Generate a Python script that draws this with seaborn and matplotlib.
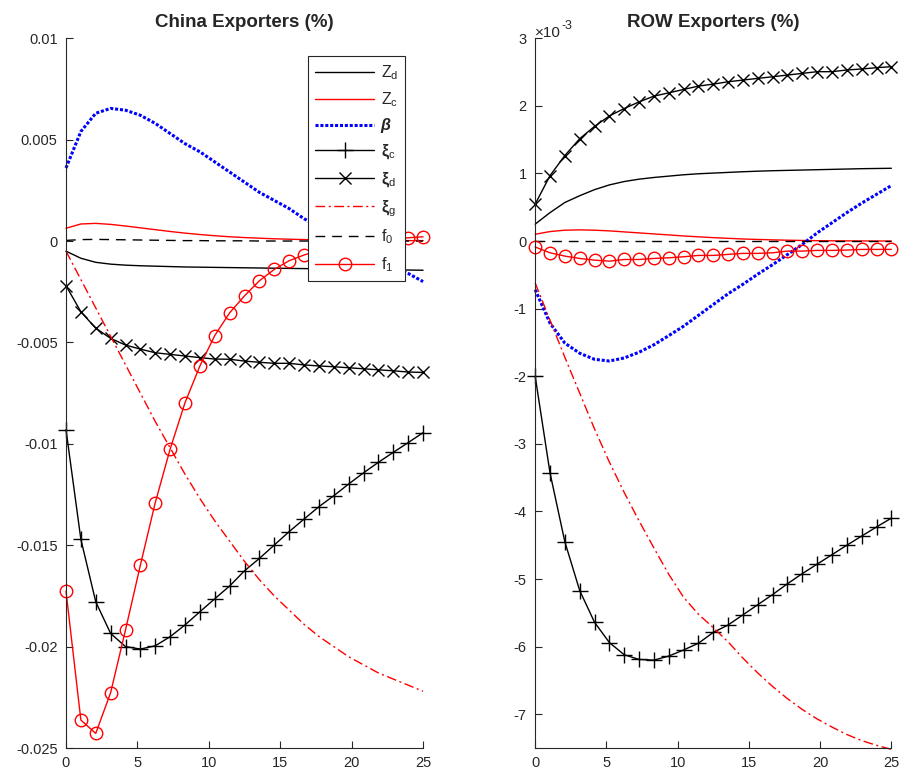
import numpy as np
import pandas as pd
import matplotlib
matplotlib.use("Agg")
import matplotlib.pyplot as plt
import seaborn as sns
from matplotlib.ticker import FuncFormatter, MultipleLocator

# ---------------- data ----------------
x_periods = np.linspace(0, 25, 25)

# China exporters (%)
china_Zd = [-0.0005, -0.00085, -0.00105, -0.00114, -0.00119, -0.00122, -0.00124, -0.00126,
            -0.00128, -0.00129, -0.0013, -0.00131, -0.00132, -0.00133, -0.00134, -0.00135,
            -0.00136, -0.00137, -0.00138, -0.00139, -0.0014, -0.00141, -0.00142, -0.00143, -0.00144]
china_Zc = [0.00063, 0.00084, 0.00087, 0.00082, 0.00074, 0.00065, 0.00056, 0.00047, 0.00039,
            0.00032, 0.00026, 0.00021, 0.00017, 0.00014, 0.00011, 0.00009, 0.00007, 0.00006,
            0.00005, 0.00004, 0.00003, 0.00003, 0.00002, 0.00002, 0.00002]
china_beta = [0.0036, 0.0054, 0.0063, 0.00654, 0.00645, 0.0062, 0.0058, 0.0053, 0.0048, 0.0044,
              0.0039, 0.0034, 0.0029, 0.0024, 0.0020, 0.0016, 0.0011, 0.0007, 0.0003, -0.0001,
              -0.0005, -0.0009, -0.0013, -0.0016, -0.0020]
china_xi_c = [-0.0093, -0.01471, -0.01779, -0.01935, -0.0200, -0.02012, -0.01996, -0.01951,
              -0.01893, -0.01828, -0.01764, -0.01701, -0.01626, -0.01565, -0.01499, -0.01433,
              -0.01371, -0.0131, -0.01256, -0.01198, -0.01143, -0.01091, -0.01042, -0.00994, -0.00945]
china_xi_d = [-0.0022, -0.00349, -0.0043, -0.0048, -0.00513, -0.00533, -0.00551, -0.00559,
              -0.00567, -0.00575, -0.00582, -0.00583, -0.00592, -0.00598, -0.00603, -0.00603,
              -0.00611, -0.00616, -0.0062, -0.00625, -0.0063, -0.00635, -0.0064, -0.00646, -0.00648]
china_xi_g = [-0.0005, -0.0019, -0.0033, -0.0047, -0.0061, -0.0075, -0.0089, -0.0102, -0.0115,
              -0.0127, -0.0138, -0.0148, -0.0158, -0.0167, -0.0175, -0.0182, -0.0189, -0.0195,
              -0.0200, -0.0205, -0.0209, -0.0213, -0.0216, -0.0219, -0.0222]
china_f0 = [0.00003, 0.00007, 0.00008, 0.00007, 0.00006, 0.00005, 0.00004, 0.00003, 0.00002,
            0.00002, 0.00001, 0.00001, 0.00001, 0.0, 0.0, 0.0, 0.0, 0.0, 0.0, 0.0, 0.0, 0.0,
            0.0, 0.0, 0.0]
china_f1 = [-0.01726, -0.02362, -0.02428, -0.02227, -0.01918, -0.01598, -0.0129, -0.01026,
            -0.00797, -0.00616, -0.00466, -0.00354, -0.0027, -0.00196, -0.0014, -0.00097,
            -0.00069, -0.00046, -0.0003, -0.00017, -0.00007, 0.00002, 0.00009, 0.00016, 0.00021]

# ROW exporters (%), in units of 1e-3
row_Zd = [0.25, 0.42, 0.57, 0.67, 0.76, 0.83, 0.88, 0.915, 0.94, 0.96, 0.98, 0.995, 1.005,
          1.015, 1.025, 1.033, 1.04, 1.045, 1.05, 1.055, 1.06, 1.065, 1.07, 1.073, 1.076]
row_Zc = [0.10, 0.14, 0.16, 0.165, 0.16, 0.15, 0.135, 0.12, 0.105, 0.09, 0.075, 0.062, 0.05,
          0.04, 0.03, 0.023, 0.017, 0.012, 0.008, 0.005, 0.003, 0.002, 0.001, 0.0, 0.0]
row_beta = [-0.72, -1.215, -1.51, -1.66, -1.75, -1.775, -1.73, -1.645, -1.535, -1.40, -1.26,
            -1.10, -0.94, -0.78, -0.64, -0.49, -0.35, -0.20, -0.05, 0.12, 0.27, 0.42, 0.56,
            0.69, 0.82]
row_xi_c = [-2.0, -3.43, -4.45, -5.17, -5.64, -5.94, -6.12, -6.19, -6.2, -6.14, -6.05, -5.95,
            -5.79, -5.68, -5.53, -5.38, -5.23, -5.07, -4.92, -4.78, -4.64, -4.50, -4.365, -4.23, -4.10]
row_xi_d = [0.546, 0.967, 1.265, 1.513, 1.696, 1.85, 1.96, 2.058, 2.143, 2.192, 2.242, 2.292,
            2.321, 2.356, 2.381, 2.406, 2.43, 2.455, 2.48, 2.505, 2.505, 2.53, 2.545, 2.564, 2.579]
row_xi_g = [-0.62, -1.17, -1.72, -2.25, -2.78, -3.27, -3.72, -4.14, -4.54, -4.93, -5.27, -5.52,
            -5.72, -5.93, -6.17, -6.39, -6.59, -6.77, -6.93, -7.07, -7.19, -7.30, -7.39, -7.46, -7.52]
row_f0 = [0.0] * 25
row_f1 = [-0.089, -0.174, -0.223, -0.258, -0.283, -0.298, -0.273, -0.273, -0.258, -0.248,
          -0.233, -0.213, -0.213, -0.198, -0.183, -0.183, -0.174, -0.149, -0.149, -0.139,
          -0.139, -0.134, -0.124, -0.124, -0.124]

series_labels = [r'Z$_{\rm d}$', r'Z$_{\rm c}$', 'β', r'ξ$_{\rm c}$',
                 r'ξ$_{\rm d}$', r'ξ$_{\rm g}$', r'f$_{\rm 0}$', r'f$_{\rm 1}$']

# ---------------- style ----------------
sns.set_style("ticks")
plt.rcParams['font.family'] = ['Liberation Sans', 'DejaVu Sans']
plt.rcParams['mathtext.fontset'] = 'custom'
plt.rcParams['mathtext.rm'] = 'Liberation Sans'
plt.rcParams['mathtext.it'] = 'Liberation Sans:italic'
plt.rcParams['mathtext.bf'] = 'Liberation Sans:bold'

styles = [
    dict(color='black', linestyle='-', linewidth=1.0, marker='None'),
    dict(color='red', linestyle='-', linewidth=1.0, marker='None'),
    dict(color='blue', linestyle=(0, (1, 0.6)), linewidth=2.2, marker='None'),
    dict(color='black', linestyle='-', linewidth=1.0, marker='+', markersize=11,
         markeredgewidth=1.0, markeredgecolor='black'),
    dict(color='black', linestyle='-', linewidth=1.0, marker='x', markersize=8.5,
         markeredgewidth=1.0, markeredgecolor='black'),
    dict(color='red', linestyle=(0, (7, 2.5, 1.5, 2.5)), linewidth=1.0, marker='None'),
    dict(color='black', linestyle=(0, (7, 5)), linewidth=1.0, marker='None'),
    dict(color='red', linestyle='-', linewidth=1.0, marker='o', markersize=9,
         markerfacecolor='none', markeredgewidth=1.0, markeredgecolor='red'),
]

fig = plt.figure(figsize=(9.04, 7.80), dpi=100)
ax1 = fig.add_axes([0.073, 0.041, 0.395, 0.910])
ax2 = fig.add_axes([0.592, 0.041, 0.394, 0.910])

china = [china_Zd, china_Zc, china_beta, china_xi_c, china_xi_d, china_xi_g, china_f0, china_f1]
row = [row_Zd, row_Zc, row_beta, row_xi_c, row_xi_d, row_xi_g, row_f0, row_f1]


def draw(ax, vals, st, scale=1.0):
    df = pd.DataFrame({'t': x_periods, 'v': np.array(vals) * scale})
    n0 = len(ax.lines)
    sns.lineplot(data=df, x='t', y='v', ax=ax, color=st['color'])
    line = ax.lines[n0]
    line.set(**st)
    line.set_clip_on(False)
    return line


handles = [draw(ax1, v, st) for v, st in zip(china, styles)]
for v, st in zip(row, styles):
    draw(ax2, v, st, 1e-3)

gray = '#262626'
for ax in (ax1, ax2):
    ax.set_xlim(0, 25)
    ax.xaxis.set_major_locator(MultipleLocator(5))
    ax.set_xlabel('')
    ax.set_ylabel('')
    for s in ('top', 'right'):
        ax.spines[s].set_visible(False)
    for s in ('left', 'bottom'):
        ax.spines[s].set_color(gray)
        ax.spines[s].set_linewidth(0.8)
    ax.tick_params(direction='in', length=5, width=0.8, colors=gray, labelsize=10.5, pad=6)
    ax.set_facecolor('white')

ax1.set_ylim(-0.025, 0.01)
ax1.yaxis.set_major_locator(MultipleLocator(0.005))
ax1.yaxis.set_major_formatter(FuncFormatter(lambda v, p: '%g' % round(v, 6) if abs(v) > 1e-12 else '0'))
ax2.set_ylim(-7.5e-3, 3e-3)
ax2.yaxis.set_major_locator(MultipleLocator(1e-3))
ax2.yaxis.set_major_formatter(FuncFormatter(lambda v, p: '%g' % round(v * 1e3, 6) if abs(v) > 1e-12 else '0'))
t_x = ax2.text(0.0, 0.998, '×10', transform=ax2.transAxes, ha='left', va='bottom',
               fontsize=11, color=gray)
ax2.annotate('-3', xy=(1.0, 0.55), xycoords=t_x, xytext=(0.5, 0), textcoords='offset points',
             ha='left', va='bottom', fontsize=9, color=gray)

ax1.set_title('China Exporters (%)', fontsize=13.5, fontweight='bold', pad=8)
ax2.set_title('ROW Exporters (%)', fontsize=13.5, fontweight='bold', pad=8)

leg = ax1.legend(handles, series_labels, loc='upper right', bbox_to_anchor=(0.95, 0.975),
                 borderaxespad=0, fancybox=False, framealpha=1, edgecolor=gray,
                 fontsize=11.5, handlelength=3.7, labelspacing=0.56, borderpad=0.45,
                 handletextpad=0.4, numpoints=1)
leg.get_frame().set_linewidth(0.8)
leg.set_zorder(10)
for i, t in enumerate(leg.get_texts()):
    if i == 2:
        t.set_fontweight('bold')
        t.set_fontstyle('italic')
    elif i in (3, 4, 5):
        t.set_fontweight('bold')

fig.savefig('out.png', dpi=100, facecolor='white')
